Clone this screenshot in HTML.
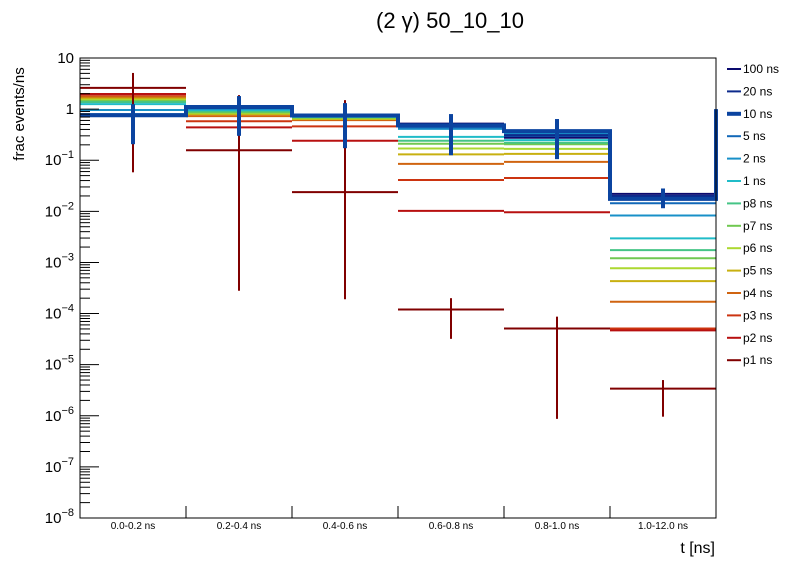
<!DOCTYPE html>
<html><head><meta charset="utf-8"><style>
body{margin:0;background:#fff;}
svg{display:block;font-family:"Liberation Sans",sans-serif;}
</style></head><body>
<svg id="c" width="796" height="572">
<rect width="796" height="572" fill="#fff"/>
<text x="450" y="28" font-size="22" text-anchor="middle">(2 γ) 50_10_10</text>
<text x="715" y="553" font-size="16" text-anchor="end">t [ns]</text>
<text transform="translate(24,114) rotate(-90)" font-size="15" text-anchor="middle">frac events/ns</text>
<g id="plot"></g>
</svg>
<script>
const categories=["0.0-0.2 ns","0.2-0.4 ns","0.4-0.6 ns","0.6-0.8 ns","0.8-1.0 ns","1.0-12.0 ns"];
const seriesNames=["100 ns","20 ns","10 ns","5 ns","2 ns","1 ns","p8 ns","p7 ns","p6 ns","p5 ns","p4 ns","p3 ns","p2 ns","p1 ns"];
const seriesColors=["#0a0a6e","#0d2a8c","#0b44a0","#1268b8","#1890c8","#20bcc8","#45c486","#70c850","#acd830","#c8b010","#d06410","#cc3410","#b81010","#800000"];
const s100=[0.78,1.12,0.76,0.52,0.275,0.0219];
const s20=[0.77,1.10,0.75,0.50,0.31,0.020];
const s10=[0.76,1.10,0.75,0.48,0.37,0.0175];
const s5=[0.80,1.05,0.73,0.44,0.295,0.0144];
const s2=[0.96,1.00,0.72,0.41,0.33,0.0083];
const s1=[1.25,0.96,0.71,0.286,0.247,0.00296];
const sp8=[1.37,0.91,0.70,0.24,0.22,0.00174];
const sp7=[1.43,0.87,0.68,0.21,0.205,0.00121];
const sp6=[1.50,0.83,0.66,0.17,0.167,0.00077];
const sp5=[1.60,0.80,0.64,0.13,0.133,0.00043];
const sp4=[1.72,0.73,0.61,0.085,0.093,0.00017];
const sp3=[1.80,0.58,0.46,0.041,0.045,0.000051];
const sp2=[1.97,0.44,0.24,0.0102,0.0096,0.000047];
const sp1=[2.6,0.157,0.0237,0.00012,0.000051,0.0000034];
const err10Hi=[1.25,1.8,1.31,0.8,0.64,0.028];
const err10Lo=[0.206,0.3,0.172,0.125,0.105,0.0115];
const errp1Hi=[5.1,1.88,1.5,0.0002,0.000087,0.000005];
const errp1Lo=[0.058,0.00028,0.00019,0.000032,0.00000087,0.00000096];
const yTickExps=[1,0,-1,-2,-3,-4,-5,-6,-7,-8];
const allSeries=[s100,s20,s10,s5,s2,s1,sp8,sp7,sp6,sp5,sp4,sp3,sp2,sp1];

const X0=80,X1=716,YTOP=58,YBOT=518;
const yMaxL=1,yMinL=-8;
function yPos(v){return YTOP+(yMaxL-Math.log10(v))/(yMaxL-yMinL)*(YBOT-YTOP);}
const bw=(X1-X0)/categories.length;
function xPos(i){return X0+i*bw;}
const NS="http://www.w3.org/2000/svg";
const g=document.getElementById('plot');
function mk(t,a,parent){const e=document.createElementNS(NS,t);for(const k in a)e.setAttribute(k,a[k]);(parent||g).appendChild(e);return e;}

// series (draw p1 first so top series overlay)
for(let s=allSeries.length-1;s>=0;s--){
  if(s===2)continue;
  const grp=mk('g',{});
  
  
  allSeries[s].forEach((v,i)=>{
    const l=mk('line',{x1:xPos(i),x2:xPos(i+1),y1:yPos(v),y2:yPos(v),stroke:seriesColors[s],'stroke-width':2},grp);
    
    
  });
}
// p1 error bars
sp1.forEach((v,i)=>{
  const cx=xPos(i)+bw/2;
  const l=mk('line',{x1:cx,x2:cx,y1:yPos(errp1Hi[i]),y2:yPos(errp1Lo[i]),stroke:seriesColors[13],'stroke-width':2});
  
  
});
// 10 ns step
let d='';
s10.forEach((v,i)=>{d+=(i===0?'M':'L')+xPos(i)+','+yPos(v)+' L'+xPos(i+1)+','+yPos(v)+' ';});
d+='L'+X1+','+yPos(1.0);
const st=mk('path',{d:d,fill:'none',stroke:seriesColors[2],'stroke-width':4});


s10.forEach((v,i)=>{
  const cx=xPos(i)+bw/2;
  const l=mk('line',{x1:cx,x2:cx,y1:yPos(err10Hi[i]),y2:yPos(err10Lo[i]),stroke:seriesColors[2],'stroke-width':4});
  
  
});
// frame
const fr=mk('rect',{x:X0,y:YTOP,width:X1-X0,height:YBOT-YTOP,fill:'none',stroke:'#000','stroke-width':1});


// y ticks
yTickExps.forEach(e=>{
  const y=yPos(Math.pow(10,e));
  mk('line',{x1:X0,x2:X0+19,y1:y,y2:y,stroke:'#000'});
  const t=mk('text',{x:X0-6,y:y+5,'font-size':15,'text-anchor':'end'});
  
  
  if(e===1)t.textContent='10';else if(e===0)t.textContent='1';
  else{t.textContent='10';const sp=mk('tspan',{dy:-7,'font-size':11},t);sp.textContent=String(e).replace('-','−');}
  if(e>yMinL){for(let m=2;m<=9;m++){const ym=yPos(m*Math.pow(10,e-1));mk('line',{x1:X0,x2:X0+10,y1:ym,y2:ym,stroke:'#000'});}}
});
// x ticks
categories.forEach((c,i)=>{
  if(i>0)mk('line',{x1:xPos(i),x2:xPos(i),y1:YBOT,y2:YBOT-12,stroke:'#000'});
  const t=mk('text',{x:xPos(i)+bw/2,y:529,'font-size':10,'text-anchor':'middle'});
  t.textContent=c;
  
  
});
// legend
const lg=mk('g',{});


seriesNames.forEach((n,i)=>{
  const y=69+i*22.4;
  const e=mk('g',{},lg);
  
  
  mk('line',{x1:727,x2:741,y1:y,y2:y,stroke:seriesColors[i],'stroke-width':i===2?4:2},e);
  const t=mk('text',{x:743,y:y+4,'font-size':12},e);
  t.textContent=n;
});
</script>
</body></html>
